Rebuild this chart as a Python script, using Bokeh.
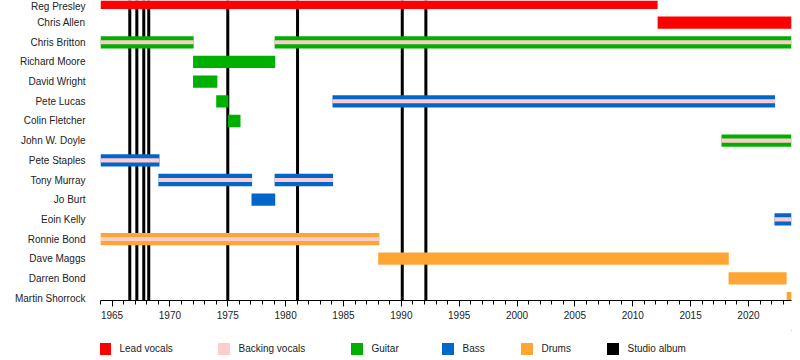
from bokeh.plotting import figure
from bokeh.layouts import column
from bokeh.models import FactorRange, Range1d, SingleIntervalTicker, Legend, LegendItem
from bokeh.embed import file_html
from bokeh.resources import INLINE

# ---------------- data ----------------
members = ["Reg Presley", "Chris Allen", "Chris Britton", "Richard Moore", "David Wright",
           "Pete Lucas", "Colin Fletcher", "John W. Doyle", "Pete Staples", "Tony Murray",
           "Jo Burt", "Eoin Kelly", "Ronnie Bond", "Dave Maggs", "Darren Bond", "Martin Shorrock"]

start_date = 1964.0
end_date = 2023.72

lead_names = ["Reg Presley", "Chris Allen"]
lead_start = [1964.0, 2012.15]
lead_end = [2012.15, end_date]

guitar_names = ["Chris Britton", "Chris Britton", "Richard Moore", "David Wright",
                "Pete Lucas", "Colin Fletcher", "John W. Doyle"]
guitar_start = [1964.0, 1979.05, 1972.0, 1972.0, 1974.0, 1975.0, 2017.67]
guitar_end = [1972.05, end_date, 1979.1, 1974.1, 1975.05, 1976.1, end_date]

bass_names = ["Pete Staples", "Tony Murray", "Tony Murray", "Jo Burt", "Pete Lucas", "Eoin Kelly"]
bass_start = [1964.0, 1969.0, 1979.05, 1977.05, 1984.05, 2022.25]
bass_end = [1969.1, 1977.1, 1984.1, 1979.1, 2022.3, end_date]

drums_names = ["Ronnie Bond", "Dave Maggs", "Darren Bond", "Martin Shorrock"]
drums_start = [1964.0, 1988.0, 2018.28, 2023.3]
drums_end = [1988.1, 2018.3, 2023.3, end_date]

backing_names = ["Chris Britton", "Chris Britton", "John W. Doyle", "Pete Staples",
                 "Tony Murray", "Tony Murray", "Pete Lucas", "Eoin Kelly", "Ronnie Bond"]
backing_start = [1964.0, 1979.05, 2017.67, 1964.0, 1969.0, 1979.05, 1984.05, 2022.25, 1964.0]
backing_end = [1972.05, end_date, end_date, 1969.1, 1977.1, 1984.1, 2022.3, end_date, 1988.1]

album_dates = [1966.53, 1967.14, 1967.74, 1968.17, 1975.0, 1981.03, 1990.08, 1992.12]

legend_labels = ["Lead vocals", "Backing vocals", "Guitar", "Bass", "Drums", "Studio album"]

# ---------------- style ----------------
RED = "#FF0000"
PINK = "#FFCCCC"
GREEN = "#00B000"
BLUE = "#0066CC"
ORANGE = "#FFA533"
BLACK = "#000000"
FONT = "Liberation Sans"
TEXT = "#222222"
BAR_H = 0.625

p = figure(width=800, height=330, output_backend="svg", toolbar_location=None,
           x_range=Range1d(start_date, end_date),
           y_range=FactorRange(factors=members[::-1], range_padding=-0.375,
                               range_padding_units="absolute"),
           min_border_left=100, min_border_right=9, min_border_top=0, min_border_bottom=30)
p.outline_line_color = None
p.xgrid.visible = False
p.ygrid.visible = False
p.background_fill_color = "white"
p.border_fill_color = "white"

# studio albums (behind bars)
p.vbar(x=album_dates, width=0.26, bottom=0, top=len(members),
       fill_color=BLACK, line_color=None)

p.hbar(y=lead_names, left=lead_start, right=lead_end, height=BAR_H,
       fill_color=RED, line_color=None)
p.hbar(y=guitar_names, left=guitar_start, right=guitar_end, height=BAR_H,
       fill_color=GREEN, line_color=None)
p.hbar(y=bass_names, left=bass_start, right=bass_end, height=BAR_H,
       fill_color=BLUE, line_color=None)
p.hbar(y=drums_names, left=drums_start, right=drums_end, height=BAR_H,
       fill_color=ORANGE, line_color=None)
p.hbar(y=backing_names, left=backing_start, right=backing_end, height=BAR_H / 3,
       fill_color=PINK, line_color=None)

# axes
xa = p.xaxis[0]
xa.ticker = SingleIntervalTicker(interval=5, num_minor_ticks=5)
xa.major_tick_in = 0
xa.minor_tick_in = 0
xa.major_tick_out = 6
xa.minor_tick_out = 4
xa.axis_line_color = BLACK
xa.major_tick_line_color = BLACK
xa.minor_tick_line_color = BLACK
xa.major_label_text_font = FONT
xa.major_label_text_font_size = "10px"
xa.major_label_text_color = TEXT
xa.major_label_standoff = 4

ya = p.yaxis[0]
ya.axis_line_color = None
ya.major_tick_line_color = None
ya.minor_tick_line_color = None
ya.major_label_text_font = FONT
ya.major_label_text_font_size = "10px"
ya.major_label_text_color = TEXT
ya.major_label_standoff = 9

# ---------------- legend strip (frame aligned with the chart frame) ----------------
leg = figure(width=800, height=30, output_backend="svg", toolbar_location=None,
             x_axis_location=None, y_axis_location=None,
             x_range=Range1d(0, 1), y_range=Range1d(0, 1),
             min_border_left=100, min_border_right=9, min_border_top=0, min_border_bottom=0)
leg.outline_line_color = None
leg.xgrid.visible = False
leg.ygrid.visible = False
leg.background_fill_color = "white"
leg.border_fill_color = "white"

legend_colors = [RED, PINK, GREEN, BLUE, ORANGE, BLACK]
legend_x = [-3.5, 115.5, 248.5, 339.5, 418.5, 504.5]
for lbl, col, lx in zip(legend_labels, legend_colors, legend_x):
    # key swatch only: its single box lies outside the strip's visible range
    proxy = leg.hbar(y=[5], left=[5], right=[6], height=0.5, fill_color=col, line_color=None)
    lg = Legend(items=[LegendItem(label=lbl, renderers=[proxy], index=0)],
                location=(lx, 4.5), orientation="horizontal",
                glyph_width=15, glyph_height=15, label_height=15,
                label_standoff=8, padding=0, margin=0, spacing=0,
                border_line_color=None, background_fill_alpha=0,
                label_text_font=FONT, label_text_font_size="10px",
                label_text_color=TEXT)
    leg.add_layout(lg, "center")

layout = column(p, leg, spacing=0)
open("out.html", "w").write(file_html(layout, INLINE))
